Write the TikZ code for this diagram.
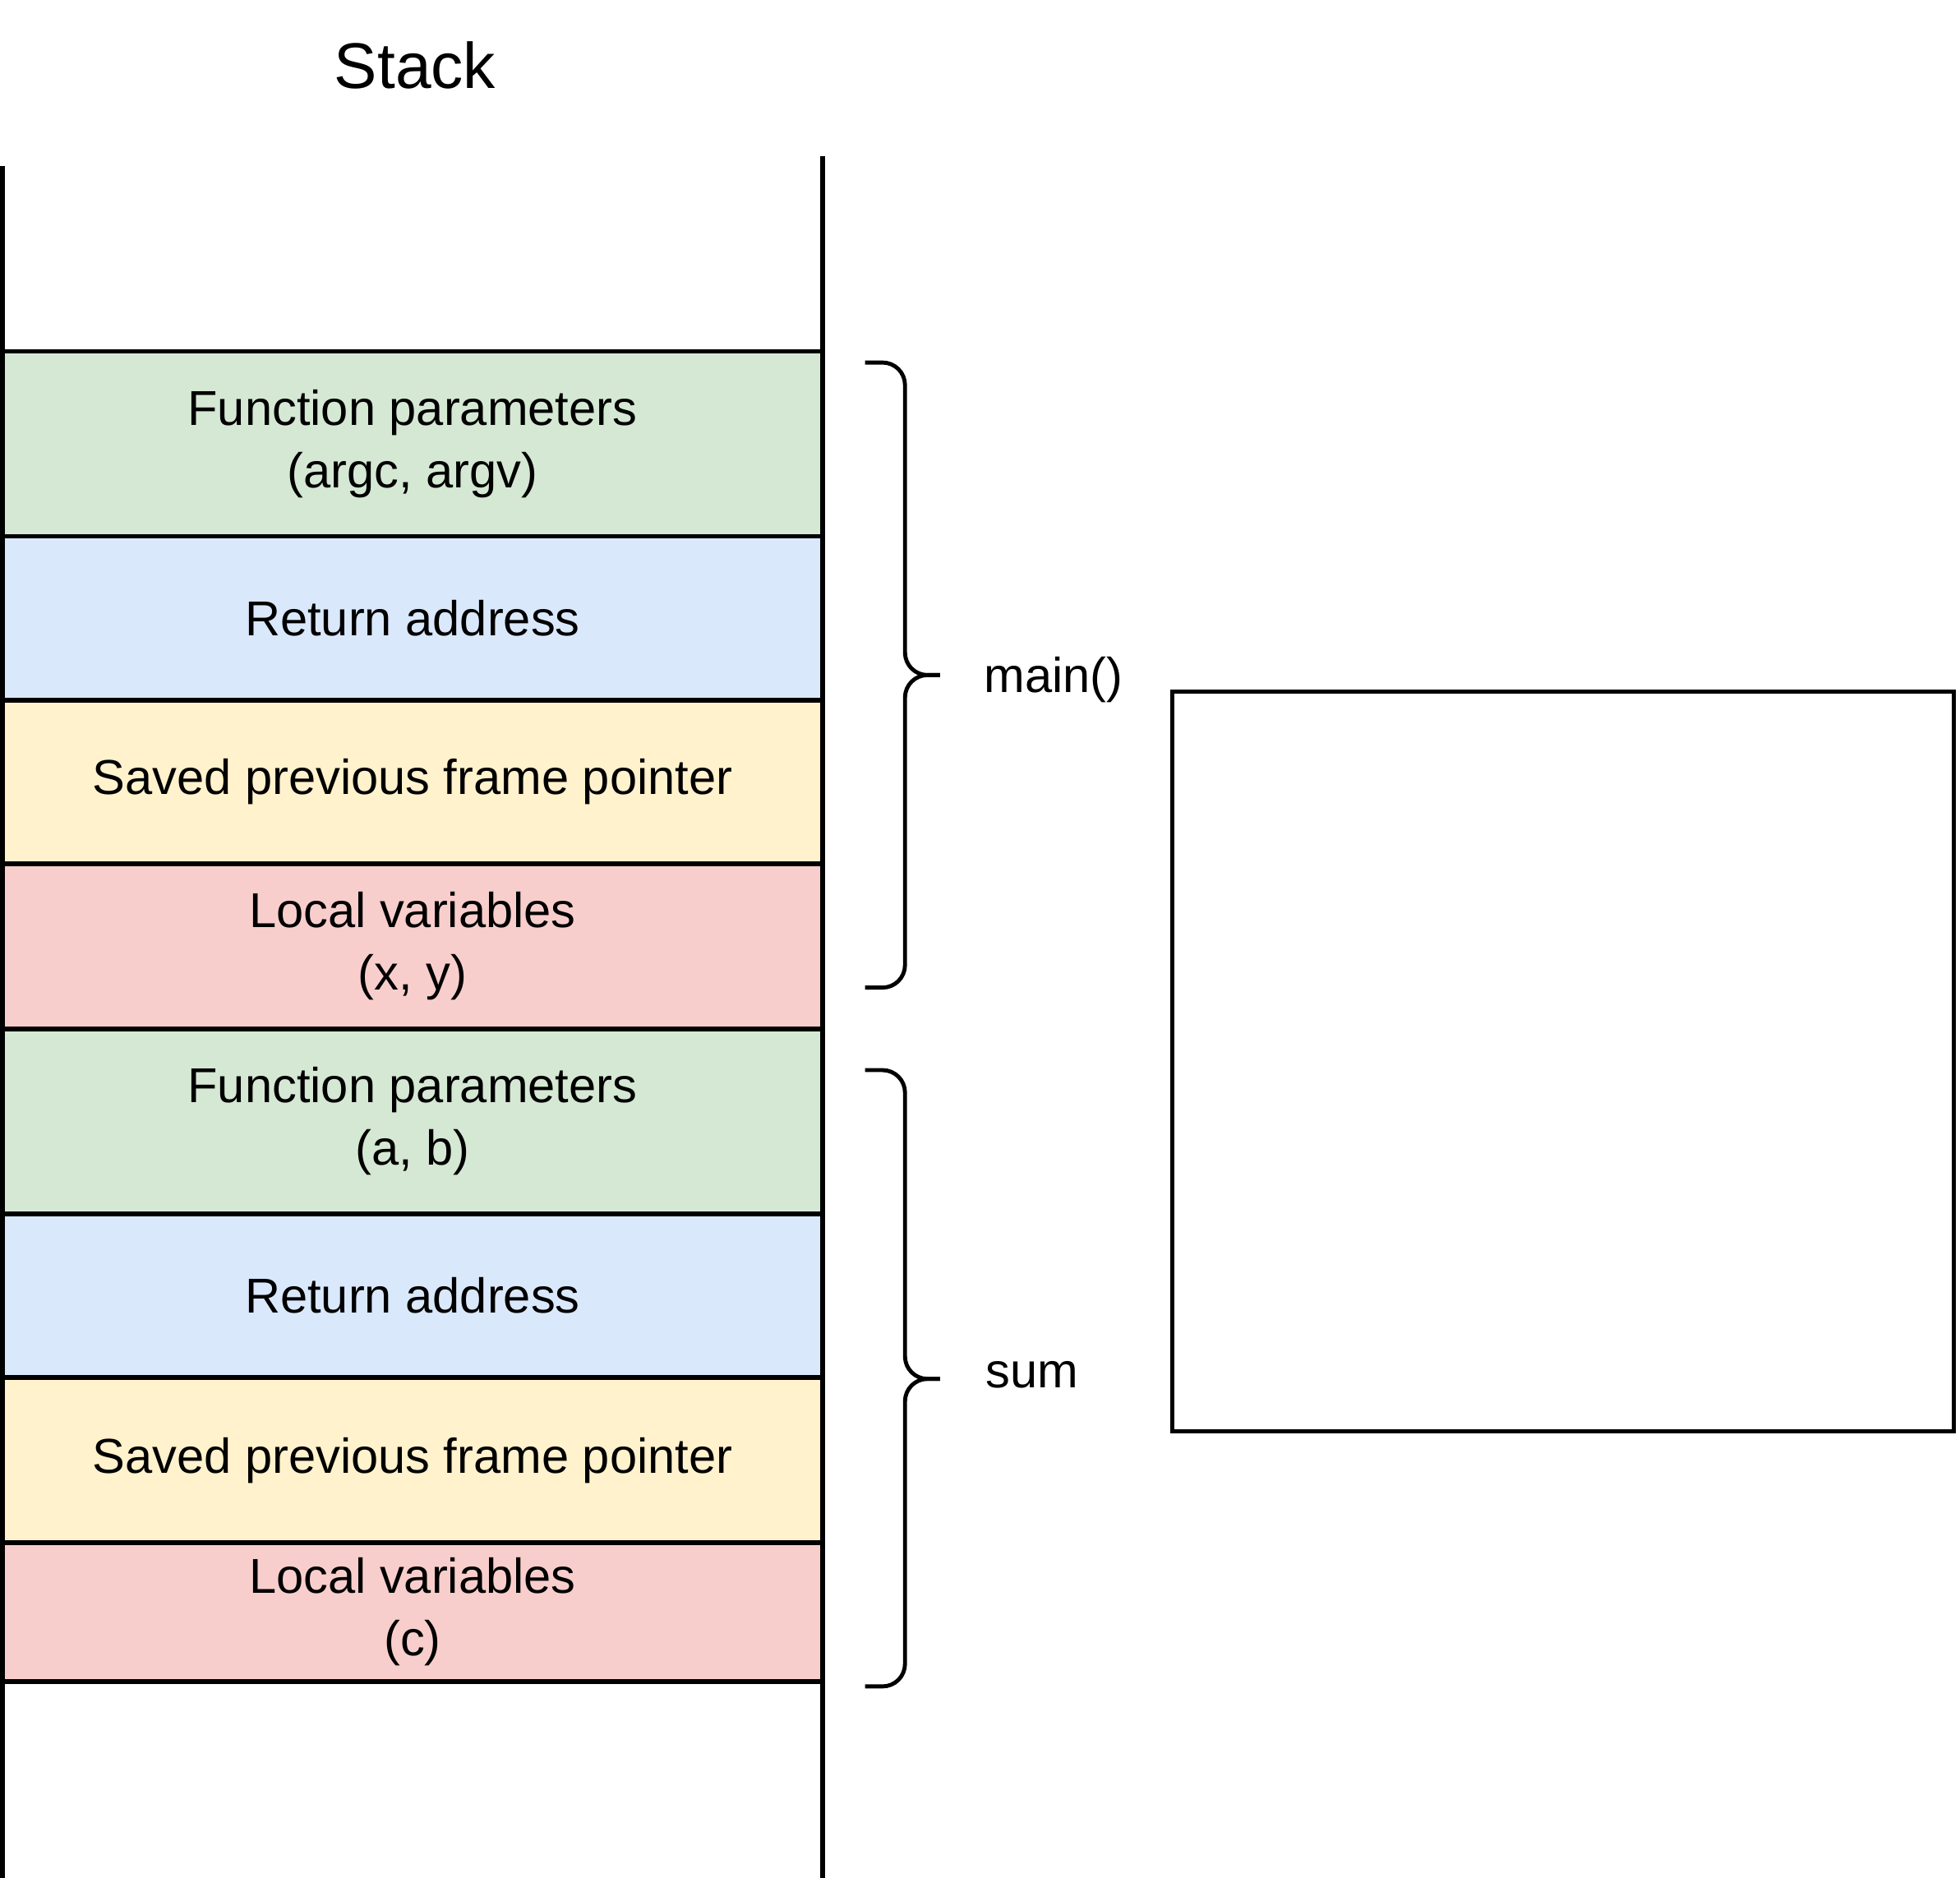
\documentclass[tikz,border=0pt]{standalone}
\usepackage{fontspec}
\setmainfont{Liberation Sans}
\definecolor{paramgreen}{HTML}{D5E8D4}
\definecolor{retblue}{HTML}{DAE8FC}
\definecolor{savedyellow}{HTML}{FFF2CC}
\definecolor{localred}{HTML}{F8CECC}

\begin{document}
\begin{tikzpicture}[
  x=0.5pt,
  y=-0.5pt,
  every node/.style={
    font=\fontsize{19.6pt}{25pt}\selectfont
  },
  slot/.style={
    draw,
    line width=1.8pt,
    anchor=north west,
    minimum width=328pt,
    inner sep=0pt,
    outer sep=0pt,
    align=center
  },
  params/.style={slot, fill=paramgreen},
  retaddr/.style={slot, fill=retblue},
  savedfp/.style={slot, fill=savedyellow},
  locals/.style={slot, fill=localred},
  stack wall/.style={
    line width=1.8pt
  },
  frame brace/.style={
    line width=1.6pt,
    rounded corners=9pt
  },
]
\useasboundingbox (0,0) rectangle (1568,1502);

\node (title) at (332,52) {\fontsize{25.8pt}{30pt}\selectfont Stack};

% frame of main()
\node[params, minimum height=74pt] (params1) at (2,281) {Function parameters\\(argc, argv)};
\node[retaddr, minimum height=65.5pt] (ret1) at (2,429) {Return address};
\node[savedfp, minimum height=65.5pt] (saved1) at (2,560) {Saved previous frame pointer};
\node[locals, minimum height=66pt] (locals1) at (2,691) {Local variables\\(x, y)};

% frame of sum
\node[params, minimum height=74pt] (params2) at (2,823) {Function parameters\\(a, b)};
\node[retaddr, minimum height=65.5pt] (ret2) at (2,971) {Return address};
\node[savedfp, minimum height=66pt] (saved2) at (2,1102) {Saved previous frame pointer};
\node[locals, minimum height=55.5pt] (locals2) at (2,1234) {Local variables\\(c)};

\draw[stack wall] (2,133) -- (2,1502);
\draw[stack wall] (658,125) -- (658,1502);

% braces
\draw[frame brace] (692,290) -| (724,540) -- (752,540);
\draw[frame brace] (752,540) -- (724,540) |- (692,790);
\node[anchor=west, inner sep=0pt] (mainlabel) at (787,544) {main()};

\draw[frame brace] (692,856) -| (724,1103) -- (752,1103);
\draw[frame brace] (752,1103) -- (724,1103) |- (692,1349);
\node[anchor=west, inner sep=0pt] (sumlabel) at (788,1100) {sum};

\node[draw, line width=1.6pt, anchor=north west, minimum width=312.5pt,
  minimum height=296pt, outer sep=0pt] (emptybox) at (938,553) {};
\end{tikzpicture}
\end{document}
